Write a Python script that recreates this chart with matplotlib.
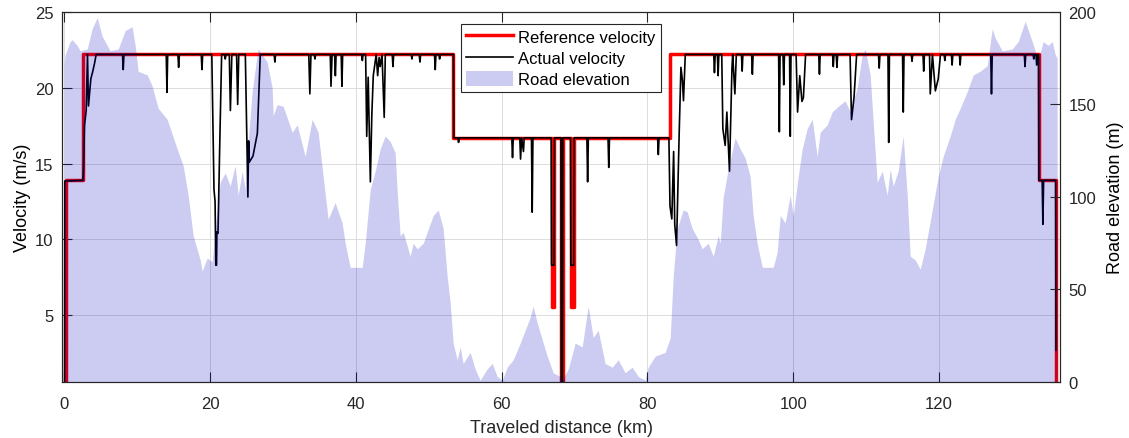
import matplotlib
matplotlib.use("Agg")
import matplotlib.pyplot as plt
from matplotlib.patches import Patch
from matplotlib.lines import Line2D

plt.rcParams['font.family'] = ['Liberation Sans', 'DejaVu Sans']

# ---------------- data ----------------
# Road elevation profile (km, m)
elev_km = [0.0, 0.14, 0.82, 1.10, 1.78, 2.19, 3.16, 3.84, 4.53, 5.21, 6.31, 7.41, 8.37, 9.33, 9.74,
           10.15, 11.39, 12.07, 12.89, 14.13, 15.50, 16.32, 17.01, 17.70, 18.66, 18.93, 19.62, 20.30,
           20.99, 21.40, 22.09, 22.77, 23.46, 23.87, 24.42, 24.83, 25.24, 25.79, 26.47, 26.61, 27.85,
           28.53, 28.67, 29.22, 30.04, 31.28, 31.96, 33.06, 34.02, 34.84, 35.53, 36.21, 37.17, 38.13,
           38.55, 39.23, 40.19, 40.88, 41.29, 41.98, 42.66, 43.35, 44.03, 44.72, 45.40, 45.68, 46.09,
           46.50, 47.46, 47.87, 48.42, 49.25, 49.79, 50.62, 51.30, 51.99, 52.54, 52.95, 53.36, 53.91,
           54.32, 54.73, 55.69, 56.38, 57.06, 58.02, 58.71, 59.40, 60.08, 60.77, 61.59, 62.55, 63.24,
           63.92, 64.33, 64.88, 65.57, 66.26, 67.08, 68.04, 68.31, 69.14, 70.10, 71.06, 71.88, 72.57,
           73.25, 74.21, 75.17, 76.00, 76.95, 77.91, 78.74, 79.70, 80.11, 81.07, 82.44, 83.13, 83.54,
           84.09, 84.91, 85.46, 86.15, 86.97, 87.52, 88.34, 89.03, 89.71, 89.99, 90.40, 91.08, 92.04,
           92.73, 93.42, 94.10, 94.51, 95.06, 95.75, 96.57, 97.26, 97.80, 98.22, 98.90, 99.59, 100.00,
           100.69, 101.23, 101.92, 102.61, 103.29, 103.70, 104.66, 105.35, 106.17, 107.13, 107.82,
           108.78, 109.47, 109.88, 110.56, 110.97, 111.52, 112.21, 112.89, 113.31, 113.72, 114.40,
           115.09, 115.64, 116.05, 116.74, 117.42, 118.11, 119.07, 119.89, 120.58, 121.54, 122.22,
           122.91, 123.87, 124.69, 125.65, 126.61, 127.30, 127.71, 128.67, 130.04, 130.86, 131.82,
           132.78, 133.61, 134.29, 134.98, 135.53, 135.94, 136.21]
elev_m = [172, 177, 184, 185, 182, 179, 180, 191, 197, 187, 179, 180, 190, 192, 182,
          168, 166, 160, 148, 142, 126, 117, 101, 79, 66, 60, 67, 65,
          93, 108, 113, 106, 117, 101, 114, 104, 130, 157, 177, 180, 173,
          159, 144, 150, 149, 135, 139, 122, 142, 135, 111, 88, 97, 86,
          75, 62, 62, 62, 75, 104, 114, 126, 133, 130, 124, 103, 79,
          81, 68, 75, 72, 75, 81, 90, 93, 83, 57, 43, 21, 12,
          19, 10, 16, 7, 1, 7, 10, 3, 1, 8, 12, 21, 28,
          35, 41, 32, 23, 14, 5, 3, 1, 7, 21, 19, 41, 24,
          28, 10, 8, 12, 5, 8, 3, 1, 8, 14, 16, 24, 57,
          83, 93, 92, 83, 77, 72, 75, 68, 79, 75, 100, 115, 132,
          126, 121, 111, 90, 75, 62, 62, 62, 70, 90, 86, 101, 90,
          111, 126, 137, 142, 122, 135, 139, 146, 149, 152, 146,
          159, 177, 180, 166, 141, 108, 114, 101, 115, 106, 114,
          133, 101, 68, 66, 61, 72, 93, 111, 122, 133, 142,
          148, 157, 166, 168, 171, 191, 186, 179, 180, 184, 195,
          184, 174, 184, 182, 184, 177, 175]

# Reference velocity step breakpoints (km, m/s), held until next breakpoint
ref_km = [0.0, 0.2, 2.56, 53.4, 66.85, 67.2, 68.15, 68.4, 69.5, 69.9, 83.1, 133.65, 136.1]
ref_v = [0.0, 13.89, 22.22, 16.67, 5.56, 16.67, 0.0, 16.67, 5.56, 16.67, 22.22, 13.89, 0.0]

# Actual velocity trace (km, m/s)
act_km = [0.05, 0.08, 2.56, 2.65, 2.78, 3.02, 3.2, 3.33, 3.66, 3.88, 4.16, 4.39,
          8.0, 8.1, 8.2, 14.0, 14.1, 14.2, 15.6, 15.7, 15.8, 18.8, 18.9, 19.0,
          20.25, 20.55, 20.7, 20.8, 20.9, 20.95, 21.1, 21.35, 21.6,
          22.0, 22.1, 22.2, 22.65, 22.8, 23.0, 23.65, 23.8, 23.95,
          24.85, 25.2, 25.3, 25.4, 25.9, 26.5, 26.9,
          28.8, 28.9, 29.0, 33.55, 33.7, 33.85, 34.3, 34.4, 34.5, 36.5, 36.6, 36.75,
          37.1, 37.2, 37.3, 38.0, 38.1, 38.2, 40.8, 40.9, 41.0,
          41.35, 41.5, 41.7, 42.0, 42.2, 42.4, 42.8, 43.0, 43.2, 43.35, 43.6, 43.9, 44.05,
          45.0, 45.1, 45.2, 47.6, 47.7, 47.8, 48.7, 48.8, 48.9, 50.8, 50.9, 51.0,
          51.4, 51.5, 51.6, 53.4, 53.45, 54.0, 54.1, 54.2,
          61.4, 61.5, 61.6, 62.5, 62.6, 62.75, 63.0, 63.1, 64.1, 64.2, 64.3,
          66.8, 66.85, 67.2, 67.25, 68.15, 68.2, 68.35, 68.4, 69.45, 69.5, 69.9, 69.95,
          71.7, 71.8, 71.9, 74.6, 74.7, 74.8, 81.4, 81.5, 81.6,
          82.95, 83.1, 83.35, 83.6, 83.75, 84.0, 84.35, 84.6, 84.8, 84.95, 85.2,
          89.1, 89.2, 89.3, 89.6, 89.7, 89.8,
          90.2, 90.35, 90.67, 90.9, 91.26, 91.6, 91.7, 92.0, 92.2,
          92.9, 93.0, 93.1, 94.3, 94.4, 94.5, 98.0, 98.1, 98.2, 98.6, 98.7, 98.8,
          99.5, 99.6, 99.7, 100.4, 100.6, 100.9, 101.2, 101.4, 101.7,
          103.5, 103.6, 103.7, 105.4, 105.5, 105.6, 105.9, 106.0, 106.1,
          107.8, 108.0, 108.35, 108.7, 111.7, 111.8, 111.9, 113.0, 113.1, 113.2,
          115.0, 115.1, 115.2, 116.2, 116.3, 116.4, 117.8, 117.9, 118.0,
          118.7, 118.8, 119.1, 119.5, 119.9, 120.2, 120.7, 120.8, 120.9,
          121.7, 121.8, 121.9, 122.8, 122.9, 123.0, 127.1, 127.2, 127.3,
          131.7, 131.8, 131.9, 132.9, 133.0, 133.1, 133.3, 133.4, 133.5,
          133.65, 133.7, 134.15, 134.25, 134.35, 136.0, 136.05]
act_v = [0.0, 13.85, 13.9, 14.5, 17.5, 18.5, 22.2, 18.8, 20.6, 21.0, 21.6, 22.2,
         22.2, 21.2, 22.2, 22.2, 19.7, 22.2, 22.2, 21.35, 22.2, 22.2, 21.2, 22.2,
         22.2, 13.3, 12.5, 8.3, 8.3, 10.5, 10.4, 16.5, 22.2,
         22.2, 21.9, 22.2, 22.2, 18.5, 22.2, 22.2, 18.9, 22.2,
         22.2, 12.8, 16.5, 15.1, 15.5, 17.0, 22.2,
         22.2, 21.7, 22.2, 22.2, 19.6, 22.2, 22.2, 21.9, 22.2, 22.2, 20.1, 22.2,
         22.2, 20.8, 22.2, 22.2, 20.1, 22.2, 22.2, 21.8, 22.2,
         22.2, 16.8, 20.7, 13.8, 18.2, 20.8, 22.2, 20.8, 22.0, 21.4, 22.2, 18.05, 22.2,
         22.2, 21.4, 22.2, 22.2, 21.9, 22.2, 22.2, 21.7, 22.2, 22.2, 21.2, 22.2,
         22.2, 21.9, 22.2, 22.2, 16.7, 16.7, 16.4, 16.7,
         16.7, 15.4, 16.7, 16.7, 15.3, 16.7, 15.8, 16.7, 16.7, 11.8, 16.7,
         16.7, 8.3, 8.3, 16.7, 16.7, 0.0, 0.0, 16.7, 16.7, 8.3, 8.3, 16.7,
         16.7, 13.8, 16.7, 16.7, 14.75, 16.7, 16.7, 15.6, 16.7,
         16.7, 12.2, 11.35, 15.8, 11.0, 9.6, 16.8, 21.35, 20.5, 19.15, 22.2,
         22.2, 21.0, 22.2, 22.2, 20.8, 22.2,
         22.2, 17.3, 16.2, 18.4, 14.5, 21.3, 22.2, 19.6, 22.2,
         22.2, 21.1, 22.2, 22.2, 20.9, 22.2, 22.2, 17.1, 22.2, 22.2, 20.2, 22.2,
         22.2, 16.8, 22.2, 22.2, 18.4, 20.8, 19.1, 19.35, 22.2,
         22.2, 20.9, 22.2, 22.2, 21.4, 22.2, 22.2, 21.35, 22.2,
         22.2, 17.9, 19.4, 22.2, 22.2, 21.3, 22.2, 22.2, 16.4, 22.2,
         22.2, 18.4, 22.2, 22.2, 21.75, 22.2, 22.2, 21.1, 22.2,
         22.2, 19.6, 22.2, 19.8, 20.6, 22.2, 22.2, 21.8, 22.2,
         22.2, 21.5, 22.2, 22.2, 21.5, 22.2, 22.2, 19.6, 22.2,
         22.2, 21.4, 22.2, 22.2, 21.9, 22.2, 22.2, 21.5, 22.2,
         22.2, 13.9, 13.9, 11.0, 13.9, 13.9, 2.7]

x_ticks = [0, 20, 40, 60, 80, 100, 120]
v_ticks = [5, 10, 15, 20, 25]
e_ticks = [0, 50, 100, 150, 200]

# ---------------- plot ----------------
dark = '#262626'
fig = plt.figure(figsize=(11.29, 4.39), dpi=100)
ax = fig.add_axes([0.0549, 0.1276, 0.8840, 0.8428])
ax2 = ax.twinx()

ax.plot(ref_km, ref_v, drawstyle='steps-post', color='red', lw=2.5, zorder=2)
ax.plot(act_km, act_v, color='black', lw=1.2, zorder=3)
ax2.fill_between(elev_km, elev_m, 0, color=(0.0, 0.0, 0.75), alpha=0.2, lw=0)

ax.set_xlim(-0.3, 136.6)
ax.set_ylim(0.6, 25)
ax2.set_ylim(0, 200)
ax.set_xticks(x_ticks)
ax.set_yticks(v_ticks)
ax2.set_yticks(e_ticks)

ax.grid(True, color='#dcdcdc', lw=0.7)
ax.set_axisbelow(True)

fs = 12
ax.tick_params(direction='in', length=7, width=0.8, top=True, right=False,
               labelsize=fs, colors=dark, pad=6)
ax.tick_params(axis='x', pad=10)
ax2.tick_params(direction='in', length=7, width=0.8, labelsize=fs, colors=dark, pad=6)
for a in (ax, ax2):
    for s in a.spines.values():
        s.set_color(dark)
        s.set_linewidth(0.8)

ax.set_xlabel('Traveled distance (km)', fontsize=13, color=dark, labelpad=6)
ax.set_ylabel('Velocity (m/s)', fontsize=13, color='black', labelpad=3)
ax2.set_ylabel('Road elevation (m)', fontsize=13, color='black', labelpad=8)

handles = [Line2D([], [], color='red', lw=2.5),
           Line2D([], [], color='black', lw=1.2),
           Patch(facecolor=(0.0, 0.0, 0.75), alpha=0.2, edgecolor='none')]
labels = ['Reference velocity', 'Actual velocity', 'Road elevation']
leg = ax2.legend(handles, labels, loc='upper center', bbox_to_anchor=(0.5, 0.968),
                 borderaxespad=0, fancybox=False, framealpha=1, edgecolor=dark,
                 fontsize=12, handlelength=2.8, handleheight=1.0, handletextpad=0.3,
                 labelspacing=0.3, borderpad=0.3)
leg.get_frame().set_linewidth(0.8)

fig.savefig('out.png', dpi=100)
